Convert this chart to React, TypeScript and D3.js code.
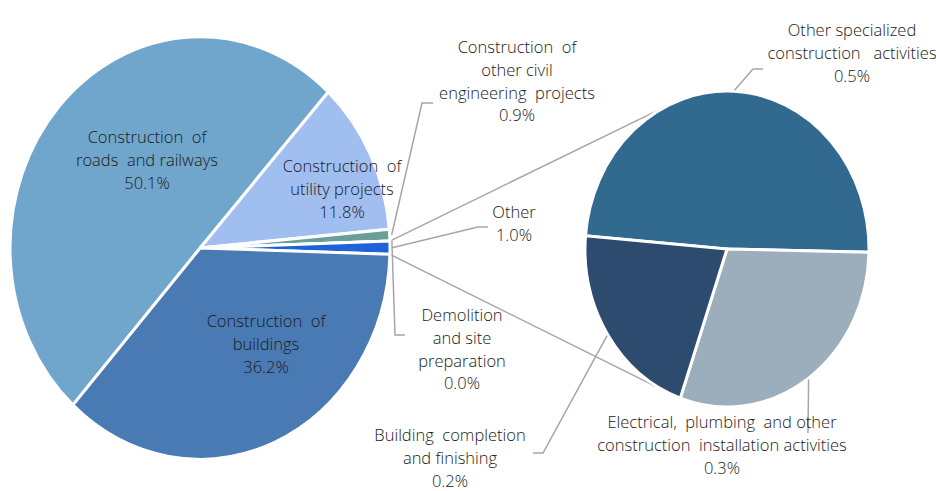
import React from 'react';
import * as d3 from 'd3';

// ---- Data ----
const primaryNames = [
  'Construction of utility projects',
  'Construction of other civil engineering projects',
  'Demolition and site preparation',
  'Other',
  'Construction of buildings',
  'Construction of roads and railways',
];
const primaryValues = [11.8, 0.9, 0.0, 1.0, 36.2, 50.1];
const primaryLabelLines = [
  ['Construction  of', 'utility projects'],
  ['Construction  of', 'other civil', 'engineering  projects'],
  ['Demolition', 'and site', 'preparation'],
  ['Other'],
  ['Construction  of', 'buildings'],
  ['Construction  of', 'roads  and railways'],
];
const primaryColors = ['#A0BEF0', '#6A9E98', '#5B8FC8', '#1F62D8', '#4A7AB4', '#70A6CC'];

const secondaryNames = [
  'Other specialized construction activities',
  'Electrical, plumbing and other construction installation activities',
  'Building completion and finishing',
];
const secondaryValues = [0.49, 0.3, 0.21];
const secondaryLabelLines = [
  ['Other specialized', 'construction   activities'],
  ['Electrical,  plumbing  and other', 'construction  installation activities'],
  ['Building  completion', 'and finishing'],
];
const secondaryColors = ['#31698F', '#9CAEBB', '#2D4B6E'];

// ---- Layout ----
const W = 936;
const H = 491;
const K = 1.112; // vertical stretch of the pies
const P = { cx: 200, cy: 248, r: 190, start: 42.4 };
const S = { cx: 727, cy: 249, r: 142, start: -85.2 };
const LINE_H = 22.8;
const FONT = "'Open Sans', sans-serif";
const LINE_COLOR = '#A6A6A6';

// label anchor (center x, first baseline) and leader elbows (null = inside label)
const primaryLayout = [
  { x: 342, y: 172, leader: null },
  { x: 517, y: 53, leader: [[422, 103], [433, 103]] },
  { x: 462, y: 321, leader: [[395, 335], [405, 335]] },
  { x: 514, y: 218, leader: [[478, 227], [488, 227]] },
  { x: 266, y: 327, leader: null },
  { x: 147, y: 143, leader: null },
];
const secondaryLayout = [
  { x: 852, y: 36, leader: [[753, 69], [763, 69]] },
  { x: 722, y: 428, leader: [[808, 433]] },
  { x: 450, y: 441, leader: [[543, 453], [533, 453]] },
];
const connectorAngles = [-25, 206]; // degrees on secondary pie

const rad = (d: number) => (d * Math.PI) / 180;
const onEllipse = (c: { cx: number; cy: number }, r: number, a: number) => [
  c.cx + r * Math.sin(a),
  c.cy - r * K * Math.cos(a),
];

export default function App() {
  const pieP = d3
    .pie<number>()
    .sort(null)
    .startAngle(rad(P.start))
    .endAngle(rad(P.start + 360))(primaryValues);
  const pieS = d3
    .pie<number>()
    .sort(null)
    .startAngle(rad(S.start))
    .endAngle(rad(S.start + 360))(secondaryValues);
  const arcP = d3.arc<d3.PieArcDatum<number>>().innerRadius(0).outerRadius(P.r);
  const arcS = d3.arc<d3.PieArcDatum<number>>().innerRadius(0).outerRadius(S.r);

  const otherIdx = primaryNames.indexOf('Other');
  const otherArc = pieP[otherIdx];
  const c1a = onEllipse(P, P.r, otherArc.startAngle);
  const c1b = onEllipse(S, S.r, rad(connectorAngles[0]));
  const c2a = onEllipse(P, P.r, otherArc.endAngle);
  const c2b = onEllipse(S, S.r, rad(connectorAngles[1]));

  const lineGen = d3.line();

  const leaders: string[] = [];
  pieP.forEach((d, i) => {
    const L = primaryLayout[i].leader;
    if (!L) return;
    const a = onEllipse(P, P.r + 2, (d.startAngle + d.endAngle) / 2);
    leaders.push(lineGen([a as [number, number], ...(L as [number, number][])]) as string);
  });
  pieS.forEach((d, i) => {
    const L = secondaryLayout[i].leader;
    if (!L) return;
    const a = onEllipse(S, S.r + 1, (d.startAngle + d.endAngle) / 2);
    leaders.push(lineGen([a as [number, number], ...(L as [number, number][])]) as string);
  });

  const renderLabel = (lines: string[], value: number, x: number, y: number, key: string) => (
    <text
      key={key}
      x={x}
      y={y}
      textAnchor="middle"
      fontFamily={FONT}
      fontSize={16.5}
      fontWeight={300}
      fill="#1a1a1a"
      style={{ whiteSpace: 'pre' }}
    >
      {[...lines, value.toFixed(1) + '%'].map((t, j) => (
        <tspan key={j} x={x} y={y + j * LINE_H}>
          {t}
        </tspan>
      ))}
    </text>
  );

  return (
    <svg
      width={W}
      height={H}
      style={{ position: 'absolute', left: 0, top: 0, background: '#fff' }}
    >
      <rect width={W} height={H} fill="#fff" />
      {/* connector lines */}
      <line x1={c1a[0]} y1={c1a[1]} x2={c1b[0]} y2={c1b[1]} stroke={LINE_COLOR} strokeWidth={1.5} />
      <line x1={c2a[0]} y1={c2a[1]} x2={c2b[0]} y2={c2b[1]} stroke={LINE_COLOR} strokeWidth={1.5} />
      {/* primary pie */}
      <g transform={`translate(${P.cx},${P.cy}) scale(1,${K})`}>
        {pieP.map((d, i) => (
          <path
            key={i}
            d={arcP(d) as string}
            fill={primaryColors[i]}
            stroke="#fff"
            strokeWidth={3}
            vectorEffect="non-scaling-stroke"
          />
        ))}
      </g>
      {/* secondary pie */}
      <g transform={`translate(${S.cx},${S.cy}) scale(1,${K})`}>
        {pieS.map((d, i) => (
          <path
            key={i}
            d={arcS(d) as string}
            fill={secondaryColors[i]}
            stroke="#fff"
            strokeWidth={3}
            vectorEffect="non-scaling-stroke"
          />
        ))}
      </g>
      {/* leader lines */}
      {leaders.map((p, i) => (
        <path key={i} d={p} fill="none" stroke={LINE_COLOR} strokeWidth={1.5} />
      ))}
      {/* labels */}
      {primaryValues.map((v, i) =>
        renderLabel(primaryLabelLines[i], v, primaryLayout[i].x, primaryLayout[i].y, 'p' + i)
      )}
      {secondaryValues.map((v, i) =>
        renderLabel(secondaryLabelLines[i], v, secondaryLayout[i].x, secondaryLayout[i].y, 's' + i)
      )}
    </svg>
  );
}
